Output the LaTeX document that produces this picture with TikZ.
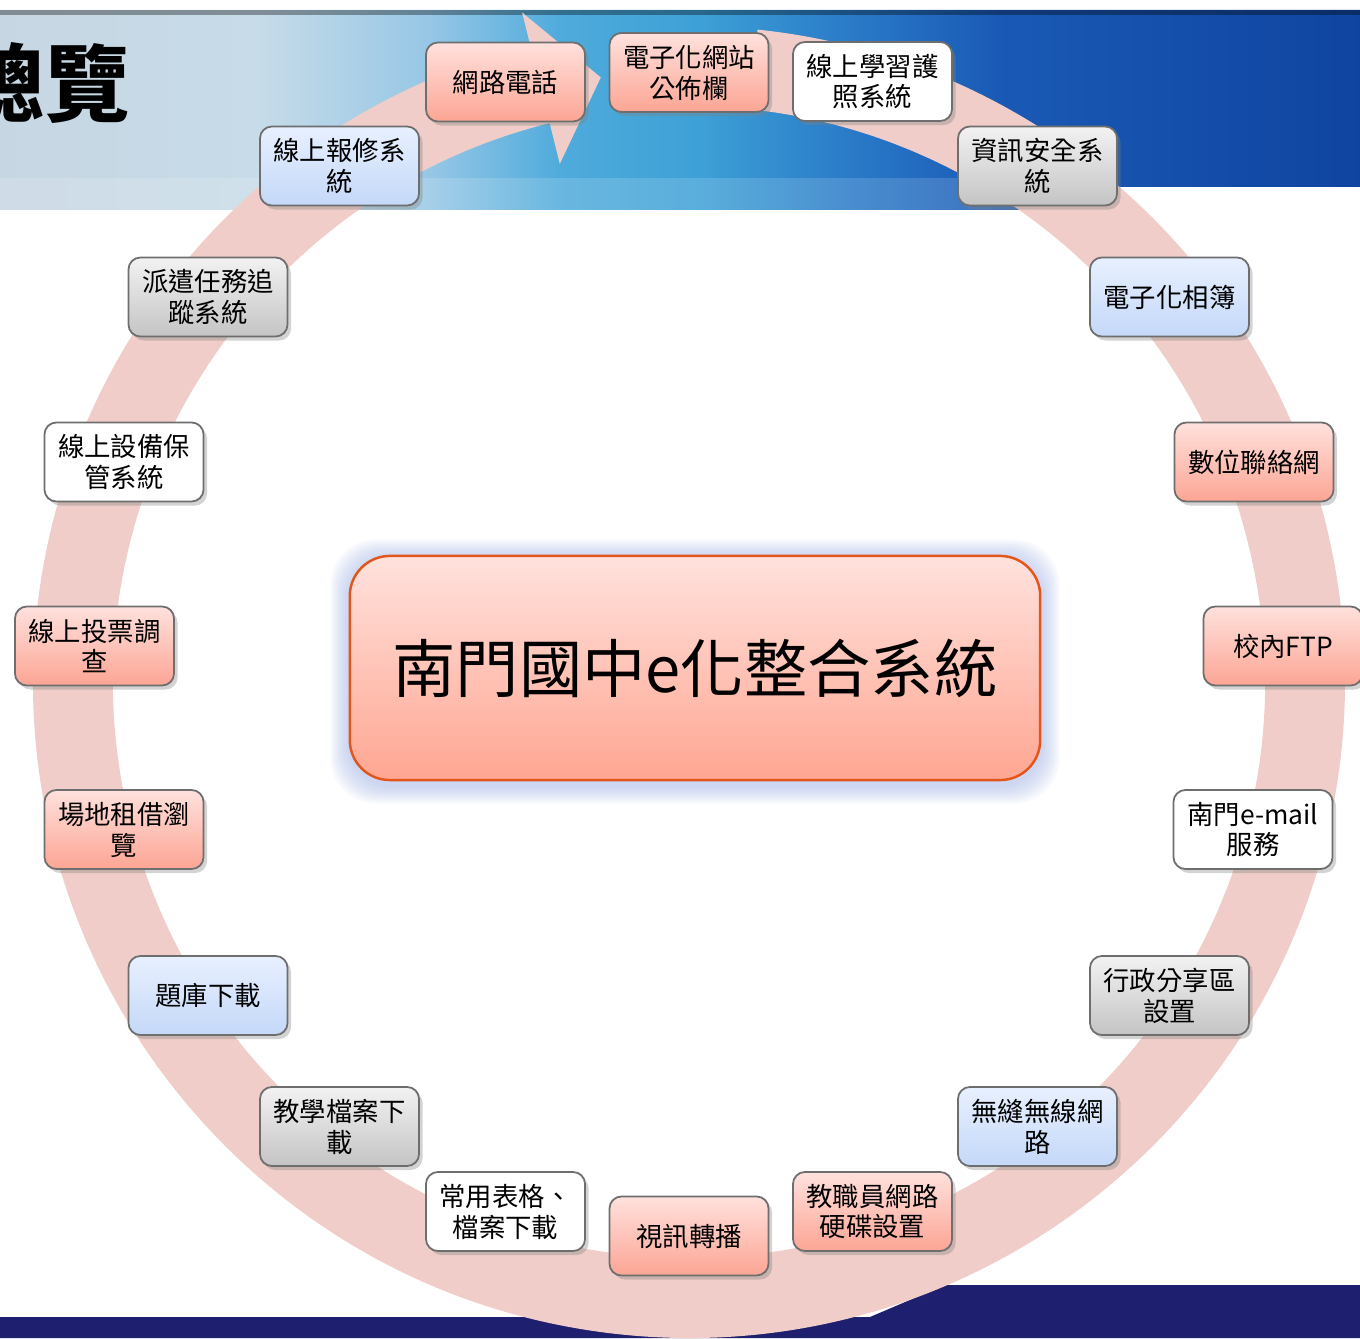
\documentclass[tikz,border=0pt]{standalone}
\usepackage{fontspec}
\setmainfont{Noto Sans CJK TC}
\usetikzlibrary{shadows,calc,backgrounds}
\definecolor{ringpink}{RGB}{240,205,200}
\definecolor{navy}{RGB}{30,31,110}
\definecolor{pinktop}{RGB}{255,225,221}
\definecolor{pinkbot}{RGB}{252,165,148}
\definecolor{bluetop}{RGB}{232,240,255}
\definecolor{bluebot}{RGB}{196,216,248}
\definecolor{graytop}{RGB}{242,242,242}
\definecolor{graybot}{RGB}{196,196,196}
\definecolor{boxline}{RGB}{110,110,110}
\definecolor{hubline}{RGB}{226,86,28}
\definecolor{hubtop}{RGB}{255,226,221}
\definecolor{hubbot}{RGB}{255,166,146}
\definecolor{glowblue}{RGB}{160,178,228}
\pgfdeclarehorizontalshading{bannershade}{100bp}{
  rgb(0bp)=(0.78,0.84,0.89); rgb(25bp)=(0.78,0.84,0.89);
  rgb(34.5bp)=(0.78,0.86,0.91); rgb(40.8bp)=(0.59,0.78,0.90);
  rgb(45.6bp)=(0.31,0.67,0.86); rgb(50.7bp)=(0.24,0.63,0.84);
  rgb(56.6bp)=(0.16,0.47,0.78); rgb(61.8bp)=(0.10,0.35,0.71);
  rgb(75bp)=(0.06,0.27,0.63); rgb(100bp)=(0.06,0.27,0.63)}
\begin{document}
\begin{tikzpicture}[x=0.01cm,y=0.01cm,
sysbox/.style={draw=boxline,line width=0.5pt,rounded corners=0.12cm,minimum width=1.59cm,minimum height=0.79cm,align=center,inner sep=1pt,font=\fontsize{7.5pt}{8.8pt}\selectfont,drop shadow={shadow xshift=0.035cm,shadow yshift=-0.04cm,opacity=0.35}},
pinkbox/.style={sysbox,top color=pinktop,bottom color=pinkbot},
bluebox/.style={sysbox,top color=bluetop,bottom color=bluebot},
graybox/.style={sysbox,top color=graytop,bottom color=graybot},
whitebox/.style={sysbox,fill=white},
hubbox/.style={draw=hubline,line width=0.7pt,rounded corners=0.4cm,minimum width=6.9cm,minimum height=2.24cm,top color=hubtop,bottom color=hubbot,font=\fontsize{18pt}{20pt}\selectfont}]
\useasboundingbox (0,0) rectangle (1360,1338);
\clip (0,0) rectangle (1360,1338);
% banner and bottom band
\shade[shading=bannershade] (0,1328) -- (1360,1328) -- (1360,1151) -- (1040,1151) -- (1040,1128) -- (0,1128) -- cycle;
\fill[black,opacity=0.35] (0,1323) rectangle (1360,1328);
\fill[white,opacity=0.15] (0,1128) rectangle (1040,1160);
\fill[navy] (0,0) -- (0,21) -- (870,21) -- (945,53) -- (1360,53) -- (1360,0) -- cycle;
\draw (142,1255) node[anchor=east,font=\bfseries\fontsize{24pt}{26pt}\selectfont] (title) {總覽};
% cycle arrow
\coordinate (ctr) at (689,656);
\fill[ringpink] ($(ctr)+(84:656)$) arc[start angle=84,end angle=-256,radius=656] -- ($(ctr)+(-256:690)$) -- ($(ctr)+(-261.7:611)$) -- ($(ctr)+(-256:534)$) -- ($(ctr)+(-256:576)$) arc[start angle=-256,end angle=84,radius=576] -- cycle;
% hub
\draw (695,670) node[hubbox] (hub) {南門國中e化整合系統};
\begin{scope}[on background layer]
\foreach \g in {2,4,...,18}
  \fill[glowblue,opacity=0.08,rounded corners=0.45cm] ($(hub.south west)+(-\g,-\g-4)$) rectangle ($(hub.north east)+(\g,\g-3)$);
\end{scope}
% systems
\draw (505.5,1256) node[pinkbox] (voip) {網路電話};
\draw (689,1265.5) node[pinkbox] (board) {電子化網站\\公佈欄};
\draw (872.5,1256.5) node[whitebox] (passport) {線上學習護\\照系統};
\draw (1037.5,1172) node[graybox] (security) {資訊安全系\\統};
\draw (1169.5,1041) node[bluebox] (album) {電子化相簿};
\draw (1254,876) node[pinkbox] (contact) {數位聯絡網};
\draw (1283,692) node[pinkbox] (ftp) {校內FTP};
\draw (1253,508.5) node[whitebox] (email) {南門e-mail\\服務};
\draw (1169.5,342.5) node[graybox] (share) {行政分享區\\設置};
\draw (1037.5,211.5) node[bluebox] (wifi) {無縫無線網\\路};
\draw (872.5,126.5) node[pinkbox] (disk) {教職員網路\\硬碟設置};
\draw (689,102) node[pinkbox] (video) {視訊轉播};
\draw (505.5,126.5) node[whitebox] (forms) {常用表格、\\檔案下載};
\draw (339.5,211.5) node[graybox] (teach) {教學檔案下\\載};
\draw (208,342.5) node[bluebox] (quiz) {題庫下載};
\draw (124,508.5) node[pinkbox] (venue) {場地租借瀏\\覽};
\draw (94.5,692) node[pinkbox] (vote) {線上投票調\\查};
\draw (124,876) node[whitebox] (asset) {線上設備保\\管系統};
\draw (208,1041) node[graybox] (dispatch) {派遣任務追\\蹤系統};
\draw (339.5,1172) node[bluebox] (repair) {線上報修系\\統};
\end{tikzpicture}
\end{document}
